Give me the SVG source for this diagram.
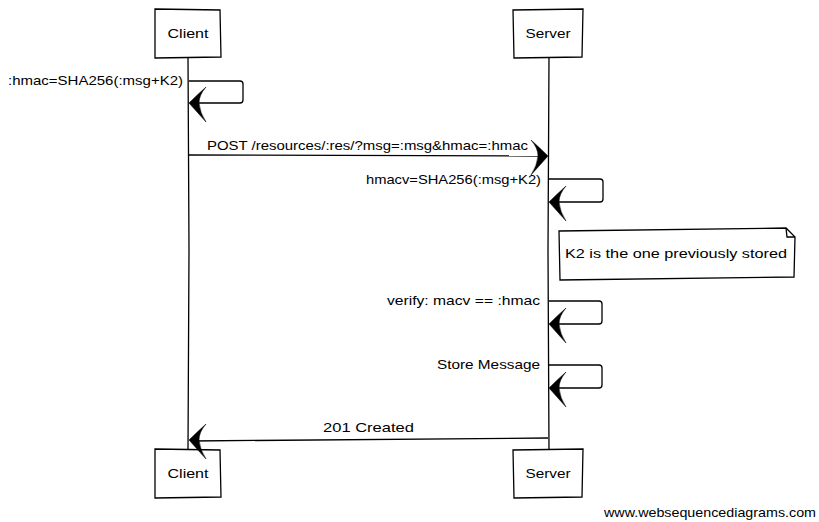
<svg xmlns="http://www.w3.org/2000/svg" xmlns:xlink="http://www.w3.org/1999/xlink" width="819" height="522" viewBox="0 0 819 522">
<style>
.box{fill:#fff;stroke:#000;stroke-width:1.3}
.ln{fill:none;stroke:#000;stroke-width:1.3}
.t{font-family:"Liberation Sans",Arial,sans-serif;font-size:13px;fill:#000}
.ah{fill:#000;stroke:#000;stroke-width:0.5}
.foot{font-family:"Liberation Sans",Arial,sans-serif;font-size:13px;fill:#000}
</style>
<defs>
<path id="ahL" class="ah" d="M0,0 Q8,-8 17,-16 Q10,-8 10,0 Q11,10 17,19 Q8,9 0,0 Z"/>
</defs>
<rect width="819" height="522" fill="#fff"/>
<g id="lifelines">
<path class="ln" d="M188,57 L189,250 L188,449"/>
<path class="ln" d="M549,57 L548,250 L549,449"/>
</g>
<g id="client-top"><path class="box" d="M155,9 L220,10 L221,57 L155,58 Z"/><text class="t" x="188" y="38" text-anchor="middle" textLength="41" lengthAdjust="spacingAndGlyphs">Client</text></g>
<g id="server-top"><path class="box" d="M513,10 L583,9 L582,57 L514,58 Z"/><text class="t" x="548" y="38" text-anchor="middle" textLength="45" lengthAdjust="spacingAndGlyphs">Server</text></g>
<g id="client-bottom"><path class="box" d="M155,449 L220,450 L221,497 L155,498 Z"/><text class="t" x="188" y="478" text-anchor="middle" textLength="41" lengthAdjust="spacingAndGlyphs">Client</text></g>
<g id="server-bottom"><path class="box" d="M513,450 L583,449 L582,497 L514,498 Z"/><text class="t" x="548" y="478" text-anchor="middle" textLength="45" lengthAdjust="spacingAndGlyphs">Server</text></g>
<g id="note"><path class="box" d="M559,231 L786,228 L795,237 L794,277 L560,280 Z"/><path class="ln" d="M786,228 L787,237 L795,237"/><text class="t" x="565" y="258" textLength="222" lengthAdjust="spacingAndGlyphs">K2 is the one previously stored</text></g>
<g id="connectors">
<path class="ln" d="M189,81 L240,81 Q243,81 243,84 L243,100 Q243,103 240,103 L192,103"/>
<use xlink:href="#ahL" x="189" y="103"/>
<text class="t" x="8" y="85" textLength="175" lengthAdjust="spacingAndGlyphs">:hmac=SHA256(:msg+K2)</text>
<path class="ln" d="M189,155 Q370,155 545,156"/>
<use xlink:href="#ahL" transform="translate(548,156) scale(-1,1)"/>
<text class="t" x="207" y="150" textLength="321" lengthAdjust="spacingAndGlyphs">POST /resources/:res/?msg=:msg&amp;hmac=:hmac</text>
<path class="ln" d="M549,179 L600,179 Q603,179 603,182 L603,199 Q603,202 600,202 L552,202"/>
<use xlink:href="#ahL" x="549" y="202"/>
<text class="t" x="366" y="184" textLength="175" lengthAdjust="spacingAndGlyphs">hmacv=SHA256(:msg+K2)</text>
<path class="ln" d="M549,301 L599,301 Q602,301 602,304 L602,321 Q602,324 599,324 L552,324"/>
<use xlink:href="#ahL" x="549" y="324"/>
<text class="t" x="387" y="305" textLength="153" lengthAdjust="spacingAndGlyphs">verify: macv == :hmac</text>
<path class="ln" d="M549,365 L599,365 Q602,365 602,368 L602,385 Q602,388 599,388 L552,388"/>
<use xlink:href="#ahL" x="549" y="388"/>
<text class="t" x="437" y="369" textLength="103" lengthAdjust="spacingAndGlyphs">Store Message</text>
<path class="ln" d="M548,438 Q370,439 192,441"/>
<use xlink:href="#ahL" x="189" y="440"/>
<text class="t" x="323" y="432" textLength="91" lengthAdjust="spacingAndGlyphs">201 Created</text>
</g>
<text class="foot" x="604" y="517" textLength="212" lengthAdjust="spacingAndGlyphs">www.websequencediagrams.com</text>
</svg>
